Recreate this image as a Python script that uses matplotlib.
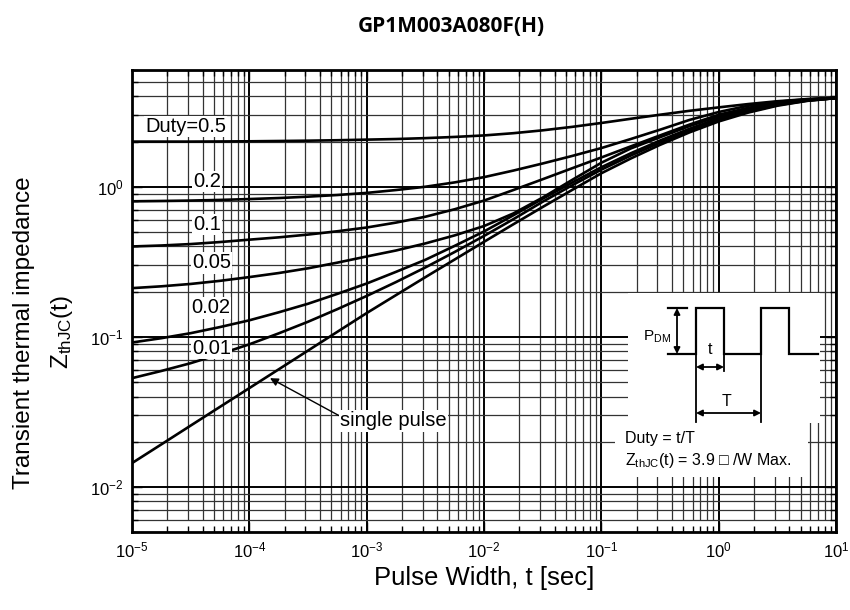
import numpy as np
import matplotlib.pyplot as plt
from matplotlib.patches import Rectangle
from matplotlib.ticker import LogLocator, NullFormatter

plt.rcParams['font.family'] = ['Liberation Sans', 'DejaVu Sans']
plt.rcParams['mathtext.fontset'] = 'custom'
plt.rcParams['mathtext.rm'] = 'Liberation Sans'
plt.rcParams['mathtext.it'] = 'Liberation Sans:italic'
plt.rcParams['mathtext.bf'] = 'Liberation Sans:bold'
plt.rcParams['axes.unicode_minus'] = False

# --- Transient thermal impedance Zth(t) [C/W] vs pulse width [s] ---
pulse_width = [1.0e-5, 1.78e-5, 3.16e-5, 5.62e-5,
               1.0e-4, 1.78e-4, 3.16e-4, 5.62e-4,
               1.0e-3, 1.78e-3, 3.16e-3, 5.62e-3,
               1.0e-2, 1.78e-2, 3.16e-2, 5.62e-2,
               1.0e-1, 1.78e-1, 3.16e-1, 5.62e-1,
               1.0e0, 1.78e0, 3.16e0, 5.62e0, 1.0e1]

zth_d05 = [2.000, 2.000, 2.000, 2.004, 2.009, 2.018, 2.028, 2.042, 2.061,
           2.080, 2.109, 2.148, 2.198, 2.275, 2.377, 2.506, 2.661, 2.838,
           3.020, 3.206, 3.381, 3.556, 3.715, 3.837, 3.917]
zth_d02 = [0.800, 0.804, 0.809, 0.817, 0.828, 0.841, 0.859, 0.881, 0.910,
           0.951, 1.000, 1.069, 1.159, 1.282, 1.429, 1.603, 1.811, 2.080,
           2.399, 2.786, 3.148, 3.467, 3.681, 3.828, 3.917]
zth_d01 = [0.400, 0.406, 0.415, 0.428, 0.444, 0.460, 0.480, 0.505, 0.535,
           0.577, 0.631, 0.708, 0.809, 0.951, 1.122, 1.327, 1.567, 1.858,
           2.198, 2.594, 3.020, 3.357, 3.631, 3.811, 3.908]
zth_d005 = [0.211, 0.217, 0.225, 0.236, 0.250, 0.266, 0.286, 0.312, 0.343,
            0.376, 0.419, 0.474, 0.547, 0.664, 0.847, 1.109, 1.445, 1.799,
            2.138, 2.535, 2.938, 3.296, 3.573, 3.776, 3.899]
zth_d002 = [0.0916, 0.0979, 0.1057, 0.1161, 0.1288, 0.1456, 0.166, 0.1932,
            0.2265, 0.271, 0.3258, 0.4036, 0.5035, 0.6457, 0.8318, 1.064,
            1.349, 1.671, 2.032, 2.432, 2.858, 3.214, 3.540, 3.758, 3.899]
zth_d001 = [0.0530, 0.0592, 0.0667, 0.0767, 0.0891, 0.1054, 0.1259, 0.1528,
            0.1871, 0.2317, 0.2897, 0.3673, 0.4699, 0.6081, 0.7943, 1.021,
            1.300, 1.614, 1.968, 2.360, 2.780, 3.162, 3.499, 3.741, 3.899]
zth_single = [0.01439, 0.01919, 0.02559, 0.03412, 0.0455, 0.0607, 0.0809,
              0.1079, 0.1439, 0.1897, 0.2495, 0.3273, 0.4295, 0.5623, 0.7328,
              0.9506, 1.230, 1.542, 1.901, 2.301, 2.723, 3.119, 3.467, 3.733,
              3.899]

curves = [zth_d05, zth_d02, zth_d01, zth_d005, zth_d002, zth_d001, zth_single]

duty_labels = ['Duty=0.5', '0.2', '0.1', '0.05', '0.02', '0.01']
label_x = [1.29e-5, 3.3e-5, 3.3e-5, 3.25e-5, 3.2e-5, 3.25e-5]
label_y = [2.51, 1.08, 0.558, 0.311, 0.156, 0.0832]

X_MIN, X_MAX = 1e-5, 1e1
Y_MIN, Y_MAX = 5e-3, 6.0

fig = plt.figure(figsize=(8.5, 6.1), dpi=100)
ax = fig.add_axes([132 / 850, 1 - 532 / 610, 704 / 850, 462 / 610])
ax.set_xscale('log')
ax.set_yscale('log')
ax.set_xlim(X_MIN, X_MAX)
ax.set_ylim(Y_MIN, Y_MAX)

# grid: full major lines, minor lines (vertical minors stop at 6e-3)
ax.grid(True, which='major', color='k', lw=1.4, zorder=1)
ax.grid(True, which='minor', axis='y', color='#333333', lw=0.9, zorder=1)
minor_x = LogLocator(base=10, subs=np.arange(2, 10)).tick_values(X_MIN, X_MAX)
minor_x = minor_x[(minor_x > X_MIN) & (minor_x < X_MAX)]
ax.vlines(minor_x, 6e-3, Y_MAX, color='#333333', lw=0.9, zorder=1)

ax.xaxis.set_major_locator(LogLocator(base=10, numticks=10))
ax.xaxis.set_minor_locator(LogLocator(base=10, subs=np.arange(2, 10), numticks=20))
ax.xaxis.set_minor_formatter(NullFormatter())
ax.yaxis.set_minor_formatter(NullFormatter())
ax.tick_params(which='both', direction='in', top=True, right=True,
               labelsize=12, width=1.0, colors='k')
ax.tick_params(which='major', length=7, pad=6)
ax.tick_params(which='minor', length=4)
for sp in ax.spines.values():
    sp.set_linewidth(2.0)
    sp.set_zorder(5)

for zth in curves:
    ax.plot(pulse_width, zth, color='k', lw=1.9, zorder=3,
            solid_joinstyle='round')

for text, lx, ly in zip(duty_labels, label_x, label_y):
    ax.text(lx, ly, text, fontsize=14.5, ha='left', va='center', zorder=4,
            bbox=dict(boxstyle='square,pad=0.06', fc='white', ec='none'))

ax.annotate('single pulse', xy=(1.5e-4, 0.053), xytext=(5.93e-4, 0.0275),
            fontsize=14.5, ha='left', va='center', zorder=4,
            bbox=dict(boxstyle='square,pad=0.06', fc='white', ec='none'),
            arrowprops=dict(arrowstyle='-|>', color='k', lw=1.0,
                            mutation_scale=12, shrinkA=0, shrinkB=0,
                            relpos=(0.0, 0.75)))

ax.set_xlabel('Pulse Width, t [sec]', fontsize=18.5, labelpad=4)
fig.text(24 / 850, 0.455, 'Transient thermal impedance', rotation=90,
         fontsize=17.5, ha='center', va='center')
fig.text(62 / 850, 0.455, r'Z$_{\mathrm{thJC}}$(t)', rotation=90,
         fontsize=17.5, ha='center', va='center')

fig.text(451 / 850, 1 - 27 / 610, 'GP1M003A080F(H)', fontsize=15,
         fontweight='bold', family='Open Sans', ha='center', va='center')

# --- duty-cycle schematic (pixel-like local coordinates) ---
ins = fig.add_axes([615 / 850, 1 - 477 / 610, 205 / 850, 184 / 610])
ins.set_xlim(615, 820)
ins.set_ylim(477, 293)
ins.axis('off')
ins.patch.set_alpha(0)
ins.add_patch(Rectangle((628, 293), 192, 130, fc='white', ec='none'))
ins.add_patch(Rectangle((615, 421), 193, 56, fc='white', ec='none'))

base, high = 354, 308
edges = [668, 696, 724, 761, 789, 818]
px = [edges[0], edges[1], edges[1], edges[2], edges[2], edges[3], edges[3],
      edges[4], edges[4], edges[5]]
py = [base, base, high, high, base, base, high, high, base, base]
ins.plot(px, py, color='k', lw=1.6, solid_joinstyle='miter')
ins.plot([668, 687], [high, high], color='k', lw=1.6)
ins.plot([edges[1], edges[1]], [base, 422], color='k', lw=1.3)
ins.plot([edges[3], edges[3]], [base, 422], color='k', lw=1.3)
ins.plot([edges[2], edges[2]], [base, 371], color='k', lw=1.3)

arrow = dict(arrowstyle='<|-|>', color='k', lw=1.3, mutation_scale=9,
             shrinkA=0, shrinkB=0)
ins.annotate('', xy=(677, high), xytext=(677, base), arrowprops=arrow)
ins.annotate('', xy=(edges[1], 367), xytext=(edges[2], 367), arrowprops=arrow)
ins.annotate('', xy=(edges[1], 413), xytext=(edges[3], 413), arrowprops=arrow)

ins.text(671, 337, r'P$_{\mathrm{DM}}$', fontsize=11, ha='right', va='center')
ins.text(710, 350, 't', fontsize=11.5, ha='center', va='center')
ins.text(727, 402, 'T', fontsize=11.5, ha='center', va='center')
ins.text(625, 439, 'Duty = t/T', fontsize=11.5, ha='left', va='center')
ins.text(625, 460, 'Z$_{\\mathrm{thJC}}$(t) = 3.9 \u25a1 /W Max.', fontsize=11.5,
         ha='left', va='center')

fig.savefig('out.png', dpi=100)
